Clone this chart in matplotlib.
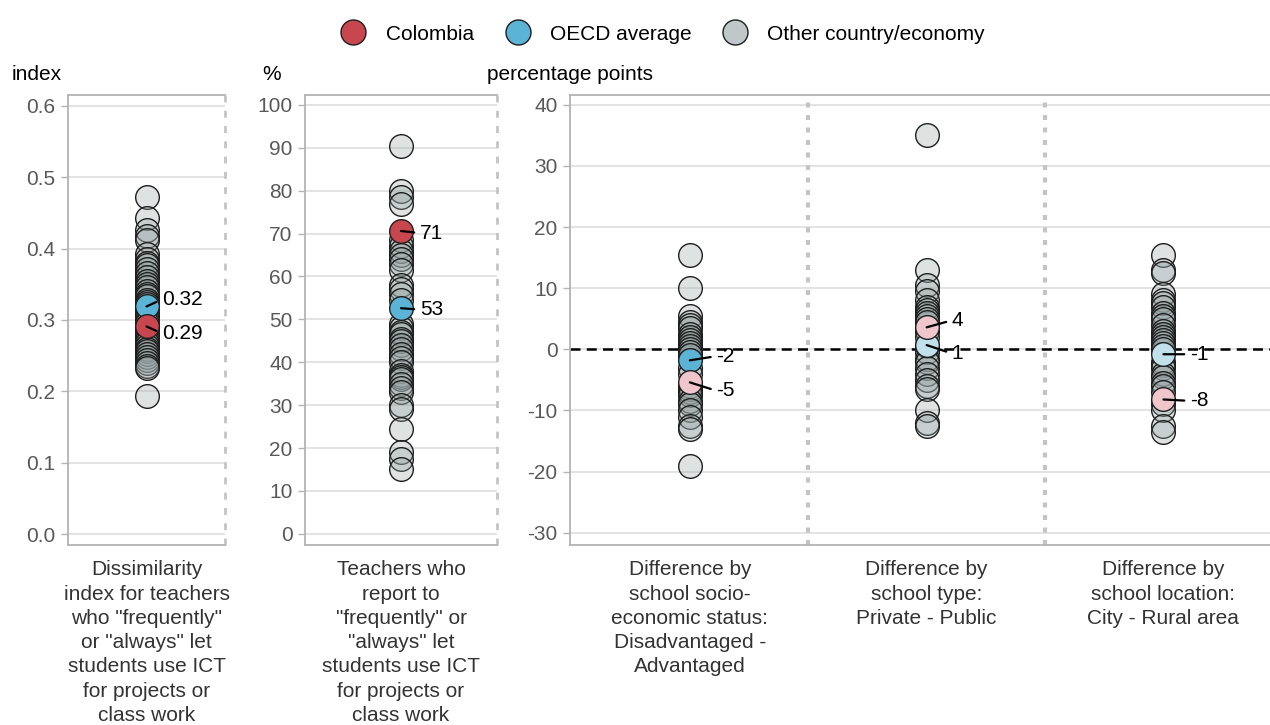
import matplotlib
matplotlib.use("Agg")
import matplotlib.pyplot as plt
from matplotlib.lines import Line2D

plt.rcParams['font.family'] = ['Liberation Sans', 'DejaVu Sans']

# ---------------- data ----------------
panel1_others = [0.473, 0.443, 0.426, 0.418, 0.412, 0.392, 0.385, 0.380, 0.377, 0.371,
                 0.366, 0.360, 0.355, 0.350, 0.346, 0.341, 0.337, 0.333, 0.328, 0.325,
                 0.322, 0.315, 0.310, 0.305, 0.300, 0.296, 0.288, 0.284, 0.280, 0.276,
                 0.272, 0.268, 0.264, 0.260, 0.256, 0.252, 0.248, 0.244, 0.240, 0.236,
                 0.233, 0.194]
panel1_colombia = 0.291
panel1_oecd = 0.319

panel2_others = [90.5, 80, 78.5, 77, 68.5, 67, 66, 65, 64, 63, 61.5, 58, 57, 56, 54.5,
                 49, 48, 47, 46.5, 45.5, 45, 44, 43, 42, 41, 40, 38, 37, 36.5, 36, 35,
                 34, 33, 30, 29, 24.5, 19, 17.5, 15]
panel2_colombia = 70.6
panel2_oecd = 52.6

diff_categories = ["Difference by\nschool socio-\neconomic status:\nDisadvantaged -\nAdvantaged",
                   "Difference by\nschool type:\nPrivate - Public",
                   "Difference by\nschool location:\nCity - Rural area"]
diff_others_ses = [15.5, 10, 5.5, 4.5, 4, 3.5, 2.5, 2, 1.5, 1, 0.5, 0, -0.5, -1, -3, -4,
                   -6, -6.5, -7, -7.5, -8.5, -9, -10, -11, -12.5, -13, -19]
diff_others_type = [35, 13, 10.5, 9.5, 8, 7, 6.5, 6, 5.5, 5, 4.5, 3, 2, 0.5, -0.5, -1.5,
                    -2, -3, -4, -5, -6, -6.5, -10, -12, -12.5]
diff_others_loc = [15.5, 13, 12.5, 9, 8, 7.5, 7, 6, 5.5, 5, 4, 3, 2.5, 2, 1.5, 1, 0.5, 0,
                   -2, -2.5, -3, -4, -4.5, -5.5, -6, -7, -9, -10, -12.5, -13.5]
diff_colombia = [-5.4, 3.6, -8.2]
diff_oecd = [-1.8, 0.7, -0.8]
colombia_significant = [False, False, False]
oecd_significant = [True, False, False]

label_p1 = "Dissimilarity\nindex for teachers\nwho \"frequently\"\nor \"always\" let\nstudents use ICT\nfor projects or\nclass work"
label_p2 = "Teachers who\nreport to\n\"frequently\" or\n\"always\" let\nstudents use ICT\nfor projects or\nclass work"
legend_labels = ["Colombia", "OECD average", "Other country/economy"]

# ---------------- style ----------------
RED = '#c8474f'
BLUE = '#5bb4d5'
PINK = '#efc6cb'
LBLUE = '#c0e0ec'
GREYLEG = '#bfc7c9'
OTHER_FC = (0.58, 0.63, 0.64, 0.30)
EDGE = '#1e1e1e'
SPINE = '#b3b3b3'
GRID = '#dedede'
TICKC = '#595959'
LABC = '#333333'
FS = 15
MS = 290
LSP = 1.35

W, H = 1270, 725
fig = plt.figure(figsize=(W / 100, H / 100), dpi=100)


def rect(l, r, t=95, b=545):
    return [l / W, 1 - b / H, (r - l) / W, (b - t) / H]


def style_ax(ax, ylim, yticks, ytl):
    ax.set_ylim(*ylim)
    ax.set_yticks(yticks)
    ax.set_yticklabels(ytl)
    ax.grid(axis='y', color=GRID, lw=1.2, zorder=0)
    ax.set_axisbelow(True)
    for s in ['left', 'top', 'bottom']:
        ax.spines[s].set_color(SPINE)
        ax.spines[s].set_linewidth(1.3)
    ax.spines['right'].set_visible(False)
    ax.tick_params(axis='y', colors=SPINE, length=5, width=1, labelcolor=TICKC, labelsize=FS, pad=4)
    ax.tick_params(axis='x', length=0, labelcolor=LABC, labelsize=FS, pad=11)


def others(ax, x, vals):
    ax.scatter([x] * len(vals), vals, s=MS, facecolor=OTHER_FC, edgecolor=EDGE, linewidth=1, zorder=3)


def highlight(ax, x, val, color, dx, dy, fmt):
    ax.scatter([x], [val], s=MS, facecolor=color, edgecolor=EDGE, linewidth=1, zorder=5)
    ax.annotate(fmt.format(val), xy=(x, val), xytext=(dx, dy), textcoords='offset points',
                ha='left', va='center', fontsize=FS, color='black', zorder=6,
                arrowprops=dict(arrowstyle='-', color='black', lw=1.6, shrinkA=2, shrinkB=0,
                                relpos=(0, 0.5)))


# Panel 1
ax1 = fig.add_axes(rect(68, 225))
ax1.set_xlim(-1, 1)
style_ax(ax1, (-0.0154, 0.6154), [0, 0.1, 0.2, 0.3, 0.4, 0.5, 0.6],
         ["0.0", "0.1", "0.2", "0.3", "0.4", "0.5", "0.6"])
ax1.set_xticks([0], [label_p1], linespacing=LSP)
others(ax1, 0, panel1_others)
highlight(ax1, 0, panel1_oecd, BLUE, 11, 5, "{:.2f}")
highlight(ax1, 0, panel1_colombia, RED, 11, -5, "{:.2f}")
ax1.axvline(1, color='#c4c4c4', lw=2, ls=(0, (2.5, 3)), clip_on=False, zorder=2)

# Panel 2
ax2 = fig.add_axes(rect(305, 497))
ax2.set_xlim(-1, 1)
style_ax(ax2, (-2.6, 102.3), list(range(0, 101, 10)), [str(v) for v in range(0, 101, 10)])
ax2.set_xticks([0], [label_p2], linespacing=LSP)
others(ax2, 0, panel2_others)
highlight(ax2, 0, panel2_colombia, RED, 13.5, -1.5, "{:.0f}")
highlight(ax2, 0, panel2_oecd, BLUE, 13.5, -1, "{:.0f}")
ax2.axvline(1, color='#c4c4c4', lw=2, ls=(0, (2.5, 3)), clip_on=False, zorder=2)

# Panel 3
ax3 = fig.add_axes(rect(570, 1270))
ax3.set_xlim(-0.506, 2.45)
style_ax(ax3, (-32.0, 41.6), list(range(-30, 41, 10)), [str(v) for v in range(-30, 41, 10)])
ax3.set_xticks([0, 1, 2], diff_categories, linespacing=LSP)
ax3.axhline(0, color='black', lw=1.8, ls=(0, (4, 2.5)), zorder=2)
for xs in [0.5, 1.5]:
    ax3.axvline(xs, color='#c4c4c4', lw=3, ls=(0, (1.2, 1.8)), zorder=1)
for i, vals in enumerate([diff_others_ses, diff_others_type, diff_others_loc]):
    others(ax3, i, vals)
col_offsets = [(19, -6), (18, 5), (19, -1)]
oecd_offsets = [(19, 3), (18, -6), (19, 0)]
for i in range(3):
    oc = BLUE if oecd_significant[i] else LBLUE
    cc = RED if colombia_significant[i] else PINK
    highlight(ax3, i, diff_oecd[i], oc, *oecd_offsets[i], "{:.0f}")
    highlight(ax3, i, diff_colombia[i], cc, *col_offsets[i], "{:.0f}")

# Unit labels
fig.text(12 / W, 1 - 75 / H, "index", fontsize=FS, ha='left', va='center', color='black')
fig.text(262 / W, 1 - 75 / H, "%", fontsize=FS, ha='left', va='center', color='black')
fig.text(487 / W, 1 - 75 / H, "percentage points", fontsize=FS, ha='left', va='center', color='black')

# Legend
handles = [Line2D([], [], ls='', marker='o', markersize=18, markerfacecolor=c,
                  markeredgecolor=EDGE, markeredgewidth=1) for c in [RED, BLUE, GREYLEG]]
fig.legend(handles, legend_labels, loc='center', bbox_to_anchor=(663 / W, 1 - 34 / H),
           ncol=3, frameon=False, fontsize=FS, handletextpad=0.95, columnspacing=1.5,
           handlelength=1.2)

fig.savefig("out.png", dpi=100)
